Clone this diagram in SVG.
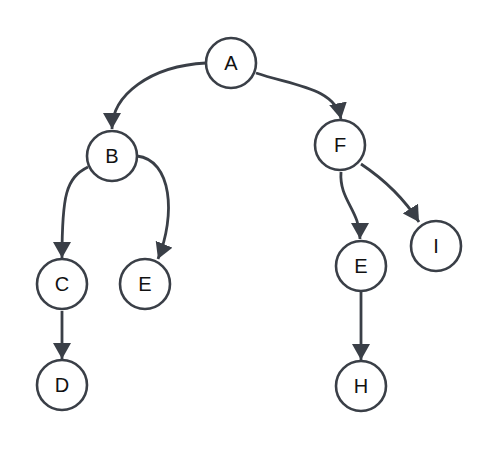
<svg xmlns="http://www.w3.org/2000/svg" width="499" height="449" viewBox="0 0 499 449">
<style>
.node circle{fill:#fff;stroke:#3a3f47;stroke-width:2.6}
.node text{font-family:"Liberation Sans",Arial,sans-serif;font-size:20px;fill:#111;text-anchor:middle;dominant-baseline:central}
.edges path{fill:none;stroke:#3a3f47;stroke-width:2.8}
</style>
<defs>
<marker id="arr" viewBox="0 0 16 18" refX="16" refY="9" markerWidth="16" markerHeight="18" markerUnits="userSpaceOnUse" orient="auto">
<path d="M0,0 L16,9 L0,18 z" fill="#3a3f47"/>
</marker>
</defs>
<rect width="499" height="449" fill="#fff"/>
<g class="edges">
<path d="M206,63 C150,66 112,95 112,129" marker-end="url(#arr)"/>
<path d="M256,73 C295,86 335,88 341,119" marker-end="url(#arr)"/>
<path d="M88,167 C66,178 62,195 62,258" marker-end="url(#arr)"/>
<path d="M137,156 C172,160 176,215 158,259" marker-end="url(#arr)"/>
<path d="M62,311 L62,359" marker-end="url(#arr)"/>
<path d="M341,172 C339,200 360,210 360,239" marker-end="url(#arr)"/>
<path d="M361,164 C385,180 405,200 419,222" marker-end="url(#arr)"/>
<path d="M361,292 L361,360" marker-end="url(#arr)"/>
</g>
<g id="A" class="node"><circle cx="231" cy="63" r="25"/><text x="231" y="63">A</text></g>
<g id="B" class="node"><circle cx="112" cy="156" r="25"/><text x="112" y="156">B</text></g>
<g id="F" class="node"><circle cx="340" cy="145" r="25"/><text x="340" y="145">F</text></g>
<g id="C" class="node"><circle cx="62" cy="284" r="25"/><text x="62" y="284">C</text></g>
<g id="E1" class="node"><circle cx="145" cy="284" r="25"/><text x="145" y="284">E</text></g>
<g id="E2" class="node"><circle cx="361" cy="266" r="25"/><text x="361" y="266">E</text></g>
<g id="I" class="node"><circle cx="436" cy="246" r="25"/><text x="436" y="246">I</text></g>
<g id="D" class="node"><circle cx="62" cy="385" r="25"/><text x="62" y="385">D</text></g>
<g id="H" class="node"><circle cx="361" cy="386" r="25"/><text x="361" y="386">H</text></g>
</svg>
